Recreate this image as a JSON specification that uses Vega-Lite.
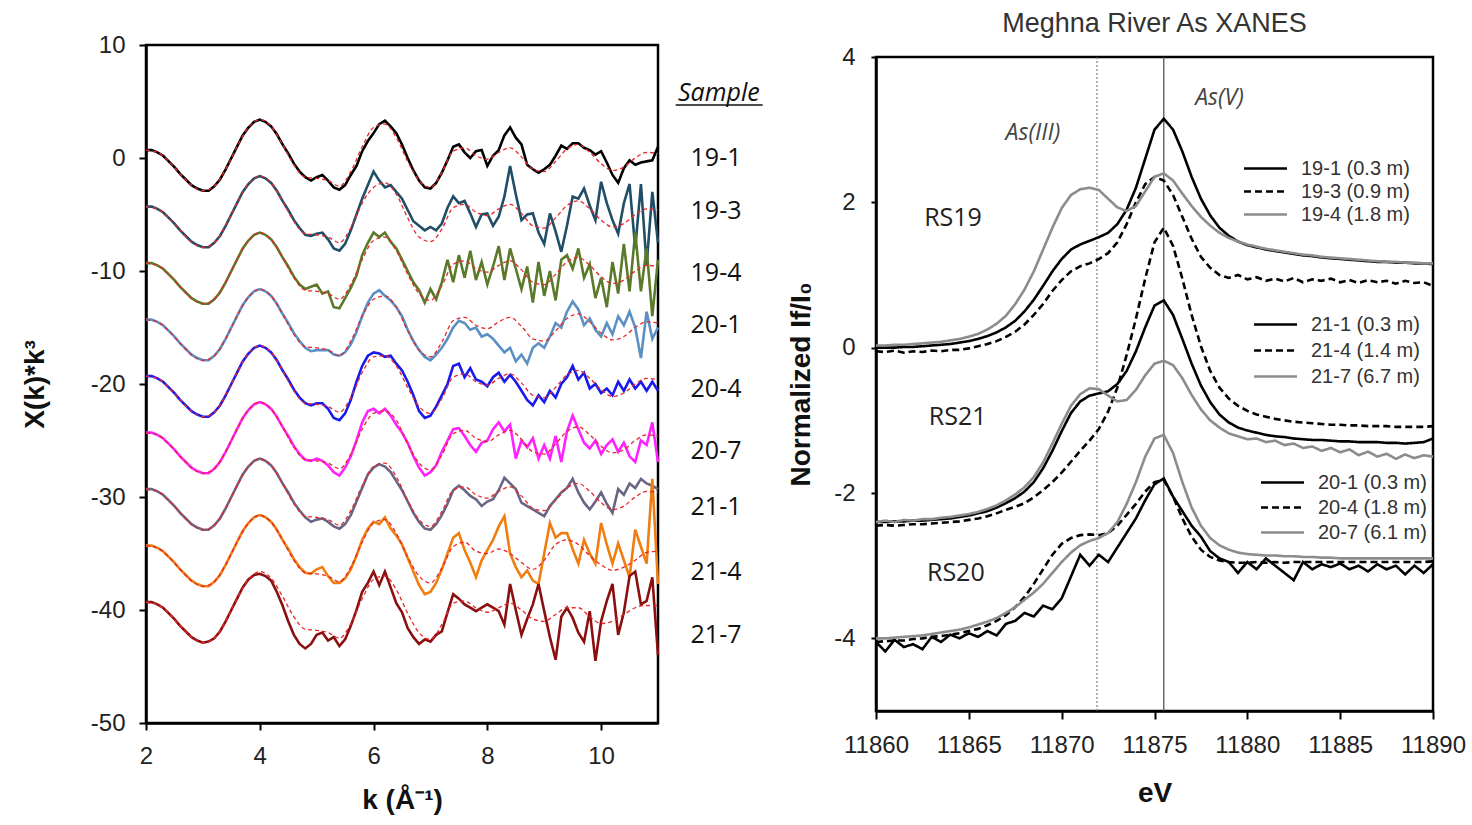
{
"$schema": "https://vega.github.io/schema/vega-lite/v6.json",
"background": "white",
"padding": {"left": 20, "top": 8, "right": 5, "bottom": 5},
"spacing": 218,
"bounds": "flush",
"center": true,
"config": {
  "font": "Liberation Sans",
  "view": {"stroke": "#000", "strokeWidth": 2.5},
  "axis": {"labelFont": "Liberation Sans", "labelFontSize": 24, "labelColor": "#222", "titleFont": "Liberation Sans", "titleFontSize": 28, "titleFontWeight": "bold", "titleColor": "#111", "domainColor": "#000", "domainWidth": 2.5, "tickColor": "#000", "tickWidth": 2, "grid": false, "labelFlush": false, "labelOverlap": false, "format": "d"},
  "legend": {"labelFont": "Liberation Sans", "labelFontSize": 20, "labelColor": "#333", "labelOffset": 24, "rowPadding": 2, "padding": 0, "symbolType": "M-2.15,0H2.15", "symbolSize": 400, "symbolStrokeWidth": 2.6, "title": null},
  "locale": {"number": {"decimal": ".", "thousands": "", "grouping": [3], "currency": ["", ""], "minus": "-"}}
},
"datasets": {
  "ex": [
    {"k":2.0,"a":0.7,"b":-4.3,"c":-9.3,"d":-14.3,"e":-19.3,"f":-24.3,"g":-29.3,"h":-34.3,"i":-39.3},
    {"k":2.1,"a":0.7,"b":-4.3,"c":-9.3,"d":-14.3,"e":-19.3,"f":-24.3,"g":-29.3,"h":-34.3,"i":-39.3},
    {"k":2.2,"a":0.5,"b":-4.5,"c":-9.5,"d":-14.5,"e":-19.5,"f":-24.5,"g":-29.5,"h":-34.5,"i":-39.5},
    {"k":2.3,"a":0.2,"b":-4.8,"c":-9.8,"d":-14.8,"e":-19.8,"f":-24.8,"g":-29.8,"h":-34.8,"i":-39.8},
    {"k":2.4,"a":-0.3,"b":-5.3,"c":-10.3,"d":-15.3,"e":-20.3,"f":-25.3,"g":-30.3,"h":-35.3,"i":-40.3},
    {"k":2.5,"a":-0.8,"b":-5.8,"c":-10.8,"d":-15.8,"e":-20.8,"f":-25.8,"g":-30.8,"h":-35.8,"i":-40.8},
    {"k":2.6,"a":-1.4,"b":-6.4,"c":-11.4,"d":-16.4,"e":-21.4,"f":-26.4,"g":-31.4,"h":-36.4,"i":-41.4},
    {"k":2.7,"a":-1.9,"b":-6.9,"c":-11.9,"d":-16.9,"e":-21.9,"f":-26.9,"g":-31.9,"h":-36.9,"i":-41.9},
    {"k":2.8,"a":-2.4,"b":-7.4,"c":-12.4,"d":-17.4,"e":-22.4,"f":-27.4,"g":-32.4,"h":-37.4,"i":-42.4},
    {"k":2.9,"a":-2.7,"b":-7.7,"c":-12.7,"d":-17.7,"e":-22.7,"f":-27.7,"g":-32.7,"h":-37.7,"i":-42.7},
    {"k":3.0,"a":-2.9,"b":-7.9,"c":-12.9,"d":-17.9,"e":-22.9,"f":-27.9,"g":-32.9,"h":-37.9,"i":-42.9},
    {"k":3.1,"a":-2.9,"b":-7.9,"c":-12.9,"d":-17.9,"e":-22.9,"f":-27.9,"g":-32.9,"h":-37.9,"i":-42.8},
    {"k":3.2,"a":-2.5,"b":-7.5,"c":-12.5,"d":-17.5,"e":-22.5,"f":-27.5,"g":-32.5,"h":-37.5,"i":-42.5},
    {"k":3.3,"a":-1.9,"b":-6.9,"c":-11.9,"d":-16.9,"e":-21.9,"f":-26.9,"g":-31.9,"h":-36.9,"i":-41.9},
    {"k":3.4,"a":-1.0,"b":-6.0,"c":-11.0,"d":-16.0,"e":-21.0,"f":-26.0,"g":-31.0,"h":-36.0,"i":-41.0},
    {"k":3.5,"a":0.0,"b":-5.0,"c":-10.0,"d":-15.0,"e":-20.0,"f":-25.0,"g":-30.0,"h":-35.0,"i":-40.0},
    {"k":3.6,"a":1.0,"b":-4.0,"c":-9.0,"d":-14.0,"e":-19.0,"f":-24.0,"g":-29.0,"h":-34.0,"i":-39.0},
    {"k":3.7,"a":2.0,"b":-3.0,"c":-8.0,"d":-13.0,"e":-18.0,"f":-23.0,"g":-28.0,"h":-33.0,"i":-38.0},
    {"k":3.8,"a":2.7,"b":-2.3,"c":-7.3,"d":-12.3,"e":-17.3,"f":-22.3,"g":-27.3,"h":-32.3,"i":-37.3},
    {"k":3.9,"a":3.2,"b":-1.8,"c":-6.8,"d":-11.8,"e":-16.8,"f":-21.8,"g":-26.8,"h":-31.8,"i":-36.9},
    {"k":4.0,"a":3.4,"b":-1.6,"c":-6.6,"d":-11.6,"e":-16.6,"f":-21.6,"g":-26.6,"h":-31.6,"i":-36.8},
    {"k":4.1,"a":3.2,"b":-1.8,"c":-6.8,"d":-11.8,"e":-16.8,"f":-21.8,"g":-26.8,"h":-31.8,"i":-37.0},
    {"k":4.2,"a":2.8,"b":-2.2,"c":-7.2,"d":-12.2,"e":-17.2,"f":-22.2,"g":-27.2,"h":-32.2,"i":-37.4},
    {"k":4.3,"a":2.1,"b":-2.9,"c":-7.9,"d":-12.9,"e":-17.9,"f":-22.9,"g":-27.9,"h":-32.9,"i":-38.4},
    {"k":4.4,"a":1.2,"b":-3.8,"c":-8.8,"d":-13.8,"e":-18.8,"f":-23.8,"g":-28.8,"h":-33.8,"i":-39.6},
    {"k":4.5,"a":0.4,"b":-4.6,"c":-9.6,"d":-14.6,"e":-19.6,"f":-24.6,"g":-29.6,"h":-34.6,"i":-41.0},
    {"k":4.6,"a":-0.5,"b":-5.5,"c":-10.5,"d":-15.5,"e":-20.5,"f":-25.5,"g":-30.5,"h":-35.5,"i":-42.2},
    {"k":4.7,"a":-1.2,"b":-6.2,"c":-11.2,"d":-16.2,"e":-21.2,"f":-26.2,"g":-31.2,"h":-36.2,"i":-43.0},
    {"k":4.8,"a":-1.7,"b":-6.8,"c":-11.6,"d":-16.8,"e":-21.7,"f":-26.7,"g":-31.8,"h":-36.7,"i":-43.4},
    {"k":4.9,"a":-2.0,"b":-6.9,"c":-11.4,"d":-17.1,"e":-21.9,"f":-26.8,"g":-32.2,"h":-36.8,"i":-43.0},
    {"k":5.0,"a":-1.7,"b":-6.7,"c":-11.2,"d":-17.0,"e":-21.7,"f":-26.6,"g":-32.0,"h":-36.4,"i":-42.2},
    {"k":5.1,"a":-1.5,"b":-6.6,"c":-12.0,"d":-17.0,"e":-21.7,"f":-26.8,"g":-31.9,"h":-36.2,"i":-42.0},
    {"k":5.2,"a":-2.0,"b":-7.2,"c":-11.8,"d":-17.0,"e":-22.2,"f":-27.2,"g":-32.2,"h":-37.0,"i":-42.7},
    {"k":5.3,"a":-2.6,"b":-8.0,"c":-13.2,"d":-17.4,"e":-23.0,"f":-27.8,"g":-32.6,"h":-37.6,"i":-42.4},
    {"k":5.4,"a":-2.8,"b":-8.2,"c":-13.3,"d":-17.5,"e":-23.2,"f":-28.1,"g":-32.8,"h":-37.6,"i":-43.2},
    {"k":5.5,"a":-2.4,"b":-7.6,"c":-12.4,"d":-17.2,"e":-22.6,"f":-27.4,"g":-32.4,"h":-37.2,"i":-42.6},
    {"k":5.6,"a":-1.5,"b":-6.4,"c":-11.5,"d":-16.5,"e":-21.4,"f":-26.4,"g":-31.6,"h":-36.4,"i":-41.4},
    {"k":5.7,"a":-0.7,"b":-5.0,"c":-10.4,"d":-15.4,"e":-19.8,"f":-25.0,"g":-30.4,"h":-35.2,"i":-40.0},
    {"k":5.8,"a":0.6,"b":-3.6,"c":-8.6,"d":-14.0,"e":-18.4,"f":-23.4,"g":-29.2,"h":-33.8,"i":-38.4},
    {"k":5.9,"a":1.5,"b":-2.4,"c":-7.5,"d":-12.8,"e":-17.5,"f":-22.4,"g":-28.0,"h":-32.8,"i":-37.6},
    {"k":6.0,"a":2.2,"b":-1.2,"c":-6.6,"d":-12.0,"e":-17.2,"f":-22.2,"g":-27.4,"h":-32.2,"i":-36.6},
    {"k":6.1,"a":3.0,"b":-2.0,"c":-7.0,"d":-11.7,"e":-17.3,"f":-22.6,"g":-27.1,"h":-32.4,"i":-37.8},
    {"k":6.2,"a":3.3,"b":-2.6,"c":-6.6,"d":-12.2,"e":-17.6,"f":-22.2,"g":-27.3,"h":-31.8,"i":-36.6},
    {"k":6.3,"a":2.8,"b":-2.4,"c":-7.4,"d":-12.6,"e":-17.5,"f":-22.8,"g":-27.8,"h":-32.8,"i":-38.0},
    {"k":6.4,"a":2.2,"b":-3.0,"c":-8.0,"d":-13.2,"e":-18.2,"f":-23.6,"g":-28.6,"h":-33.4,"i":-39.4},
    {"k":6.5,"a":1.2,"b":-3.6,"c":-9.0,"d":-14.0,"e":-18.8,"f":-24.3,"g":-29.4,"h":-34.2,"i":-40.2},
    {"k":6.6,"a":0.0,"b":-4.6,"c":-10.0,"d":-15.2,"e":-19.8,"f":-25.2,"g":-30.4,"h":-35.4,"i":-41.6},
    {"k":6.7,"a":-1.1,"b":-5.6,"c":-11.0,"d":-16.2,"e":-21.0,"f":-26.4,"g":-31.4,"h":-36.6,"i":-42.4},
    {"k":6.8,"a":-2.0,"b":-6.0,"c":-11.7,"d":-17.0,"e":-22.4,"f":-27.4,"g":-32.2,"h":-37.8,"i":-43.0},
    {"k":6.9,"a":-2.6,"b":-6.4,"c":-12.8,"d":-17.6,"e":-23.0,"f":-28.1,"g":-32.8,"h":-38.6,"i":-42.6},
    {"k":7.0,"a":-2.7,"b":-6.1,"c":-11.6,"d":-17.9,"e":-22.8,"f":-27.8,"g":-32.9,"h":-38.4,"i":-42.8},
    {"k":7.1,"a":-2.2,"b":-6.4,"c":-12.5,"d":-17.4,"e":-22.0,"f":-27.2,"g":-32.4,"h":-37.6,"i":-42.2},
    {"k":7.2,"a":-1.3,"b":-5.8,"c":-11.0,"d":-16.8,"e":-21.0,"f":-26.0,"g":-31.6,"h":-36.4,"i":-41.9},
    {"k":7.3,"a":-0.2,"b":-4.4,"c":-9.0,"d":-16.0,"e":-20.0,"f":-25.0,"g":-30.6,"h":-35.0,"i":-40.2},
    {"k":7.4,"a":1.0,"b":-3.4,"c":-11.0,"d":-15.0,"e":-18.4,"f":-24.0,"g":-29.4,"h":-33.6,"i":-38.6},
    {"k":7.5,"a":1.2,"b":-4.0,"c":-8.6,"d":-14.4,"e":-18.2,"f":-23.9,"g":-29.0,"h":-33.2,"i":-39.0},
    {"k":7.6,"a":0.5,"b":-3.8,"c":-10.6,"d":-14.6,"e":-19.4,"f":-24.6,"g":-29.4,"h":-34.7,"i":-39.5},
    {"k":7.7,"a":0.0,"b":-4.9,"c":-8.2,"d":-15.2,"e":-18.6,"f":-25.4,"g":-29.9,"h":-35.8,"i":-39.8},
    {"k":7.8,"a":0.6,"b":-6.1,"c":-10.8,"d":-15.0,"e":-19.6,"f":-26.0,"g":-30.2,"h":-37.1,"i":-40.1},
    {"k":7.9,"a":0.7,"b":-5.0,"c":-9.2,"d":-15.8,"e":-19.8,"f":-25.2,"g":-30.8,"h":-35.6,"i":-39.8},
    {"k":8.0,"a":-0.7,"b":-4.9,"c":-11.2,"d":-15.6,"e":-20.2,"f":-25.0,"g":-30.4,"h":-34.7,"i":-39.5},
    {"k":8.1,"a":0.2,"b":-6.0,"c":-9.6,"d":-16.0,"e":-19.4,"f":-24.0,"g":-30.2,"h":-33.8,"i":-39.8},
    {"k":8.2,"a":0.7,"b":-5.2,"c":-7.8,"d":-16.6,"e":-19.0,"f":-23.4,"g":-29.4,"h":-32.6,"i":-40.1},
    {"k":8.3,"a":2.0,"b":-3.4,"c":-10.8,"d":-17.2,"e":-19.8,"f":-24.2,"g":-28.3,"h":-31.7,"i":-41.3},
    {"k":8.4,"a":2.7,"b":-0.7,"c":-8.0,"d":-16.8,"e":-19.2,"f":-23.6,"g":-28.8,"h":-35.0,"i":-37.7},
    {"k":8.5,"a":1.8,"b":-3.2,"c":-9.8,"d":-18.0,"e":-19.8,"f":-26.6,"g":-29.3,"h":-36.2,"i":-40.0},
    {"k":8.6,"a":1.2,"b":-5.5,"c":-11.6,"d":-17.4,"e":-20.6,"f":-25.0,"g":-30.5,"h":-37.1,"i":-42.2},
    {"k":8.7,"a":-0.6,"b":-5.0,"c":-9.6,"d":-18.2,"e":-21.4,"f":-25.6,"g":-30.8,"h":-36.5,"i":-40.8},
    {"k":8.8,"a":-1.0,"b":-4.9,"c":-12.8,"d":-16.8,"e":-21.9,"f":-24.8,"g":-31.1,"h":-37.4,"i":-39.5},
    {"k":8.9,"a":-1.3,"b":-6.6,"c":-9.2,"d":-16.4,"e":-21.0,"f":-26.6,"g":-31.4,"h":-37.7,"i":-37.7},
    {"k":9.0,"a":-1.0,"b":-7.6,"c":-12.2,"d":-16.8,"e":-21.6,"f":-25.4,"g":-31.7,"h":-35.0,"i":-40.1},
    {"k":9.1,"a":-0.6,"b":-4.9,"c":-10.0,"d":-15.8,"e":-20.6,"f":-26.6,"g":-30.8,"h":-32.3,"i":-42.4},
    {"k":9.2,"a":0.2,"b":-6.5,"c":-12.6,"d":-14.6,"e":-21.2,"f":-24.6,"g":-30.2,"h":-33.6,"i":-44.4},
    {"k":9.3,"a":1.1,"b":-8.3,"c":-9.0,"d":-15.0,"e":-20.0,"f":-26.9,"g":-29.6,"h":-33.2,"i":-40.6},
    {"k":9.4,"a":0.8,"b":-6.0,"c":-8.6,"d":-13.6,"e":-19.4,"f":-24.2,"g":-29.2,"h":-33.2,"i":-39.8},
    {"k":9.5,"a":1.3,"b":-3.4,"c":-9.8,"d":-12.7,"e":-18.4,"f":-22.8,"g":-28.4,"h":-34.6,"i":-40.7},
    {"k":9.6,"a":1.3,"b":-3.6,"c":-8.0,"d":-13.4,"e":-19.6,"f":-24.0,"g":-29.6,"h":-35.9,"i":-42.0},
    {"k":9.7,"a":0.9,"b":-2.7,"c":-10.6,"d":-14.8,"e":-19.0,"f":-25.2,"g":-30.5,"h":-33.8,"i":-42.8},
    {"k":9.8,"a":0.7,"b":-4.2,"c":-9.4,"d":-14.2,"e":-20.4,"f":-25.7,"g":-31.1,"h":-35.0,"i":-40.1},
    {"k":9.9,"a":0.3,"b":-5.5,"c":-12.4,"d":-15.2,"e":-20.0,"f":-25.0,"g":-30.4,"h":-35.9,"i":-44.5},
    {"k":10.0,"a":0.6,"b":-2.1,"c":-10.6,"d":-15.8,"e":-20.8,"f":-26.2,"g":-29.6,"h":-32.3,"i":-41.0},
    {"k":10.1,"a":-0.4,"b":-4.0,"c":-13.2,"d":-14.6,"e":-20.4,"f":-25.4,"g":-30.6,"h":-34.2,"i":-39.2},
    {"k":10.2,"a":-1.5,"b":-5.5,"c":-9.2,"d":-15.6,"e":-21.0,"f":-24.9,"g":-31.4,"h":-35.9,"i":-37.7},
    {"k":10.3,"a":-2.2,"b":-6.7,"c":-12.0,"d":-14.0,"e":-19.8,"f":-26.0,"g":-29.3,"h":-34.1,"i":-42.2},
    {"k":10.4,"a":-0.9,"b":-4.0,"c":-7.6,"d":-14.8,"e":-20.6,"f":-25.2,"g":-29.8,"h":-35.6,"i":-40.2},
    {"k":10.5,"a":-0.2,"b":-2.3,"c":-11.8,"d":-13.6,"e":-19.6,"f":-26.4,"g":-28.8,"h":-37.1,"i":-37.0},
    {"k":10.6,"a":-0.6,"b":-8.0,"c":-6.6,"d":-15.0,"e":-20.4,"f":-26.9,"g":-29.2,"h":-32.9,"i":-36.6},
    {"k":10.7,"a":-0.4,"b":-2.3,"c":-11.8,"d":-17.7,"e":-19.8,"f":-25.0,"g":-28.4,"h":-34.4,"i":-39.5},
    {"k":10.8,"a":-0.3,"b":-9.5,"c":-8.0,"d":-13.6,"e":-20.6,"f":-25.4,"g":-28.8,"h":-35.9,"i":-39.2},
    {"k":10.9,"a":-0.2,"b":-3.0,"c":-14.0,"d":-16.0,"e":-19.8,"f":-23.4,"g":-29.0,"h":-28.4,"i":-37.1},
    {"k":11.0,"a":1.0,"b":-7.5,"c":-9.0,"d":-15.0,"e":-20.6,"f":-26.9,"g":-29.3,"h":-37.7,"i":-44.0}
  ],
  "fit": [
    {"k":2.0,"a":0.7,"b":-4.3,"c":-9.3,"d":-14.3,"e":-19.3,"f":-24.3,"g":-29.3,"h":-34.3,"i":-39.3},
    {"k":2.2,"a":0.5,"b":-4.5,"c":-9.5,"d":-14.5,"e":-19.5,"f":-24.5,"g":-29.5,"h":-34.5,"i":-39.5},
    {"k":2.4,"a":-0.3,"b":-5.3,"c":-10.3,"d":-15.3,"e":-20.3,"f":-25.3,"g":-30.3,"h":-35.3,"i":-40.3},
    {"k":2.6,"a":-1.4,"b":-6.4,"c":-11.4,"d":-16.4,"e":-21.4,"f":-26.4,"g":-31.4,"h":-36.4,"i":-41.4},
    {"k":2.8,"a":-2.4,"b":-7.4,"c":-12.4,"d":-17.4,"e":-22.4,"f":-27.4,"g":-32.4,"h":-37.4,"i":-42.4},
    {"k":3.0,"a":-2.9,"b":-7.9,"c":-12.9,"d":-17.9,"e":-22.9,"f":-27.9,"g":-32.9,"h":-37.9,"i":-42.9},
    {"k":3.2,"a":-2.5,"b":-7.5,"c":-12.5,"d":-17.5,"e":-22.5,"f":-27.5,"g":-32.5,"h":-37.5,"i":-42.5},
    {"k":3.4,"a":-1.0,"b":-6.0,"c":-11.0,"d":-16.0,"e":-21.0,"f":-26.0,"g":-31.0,"h":-36.0,"i":-41.0},
    {"k":3.6,"a":1.0,"b":-4.0,"c":-9.0,"d":-14.0,"e":-19.0,"f":-24.0,"g":-29.0,"h":-34.0,"i":-39.0},
    {"k":3.8,"a":2.7,"b":-2.3,"c":-7.3,"d":-12.3,"e":-17.3,"f":-22.3,"g":-27.3,"h":-32.3,"i":-37.3},
    {"k":4.0,"a":3.4,"b":-1.6,"c":-6.6,"d":-11.6,"e":-16.6,"f":-21.6,"g":-26.6,"h":-31.6,"i":-36.6},
    {"k":4.2,"a":2.8,"b":-2.2,"c":-7.2,"d":-12.2,"e":-17.2,"f":-22.2,"g":-27.2,"h":-32.2,"i":-37.2},
    {"k":4.4,"a":1.2,"b":-3.8,"c":-8.8,"d":-13.8,"e":-18.8,"f":-23.8,"g":-28.8,"h":-33.8,"i":-38.8},
    {"k":4.6,"a":-0.6,"b":-5.6,"c":-10.6,"d":-15.6,"e":-20.6,"f":-25.6,"g":-30.6,"h":-35.6,"i":-40.6},
    {"k":4.8,"a":-1.7,"b":-6.7,"c":-11.7,"d":-16.7,"e":-21.7,"f":-26.7,"g":-31.7,"h":-36.7,"i":-41.7},
    {"k":5.0,"a":-1.8,"b":-6.8,"c":-11.8,"d":-16.8,"e":-21.8,"f":-26.8,"g":-31.8,"h":-36.8,"i":-41.8},
    {"k":5.2,"a":-2.0,"b":-7.0,"c":-12.0,"d":-17.0,"e":-22.0,"f":-27.0,"g":-32.0,"h":-37.0,"i":-42.0},
    {"k":5.4,"a":-2.5,"b":-7.5,"c":-12.5,"d":-17.5,"e":-22.5,"f":-27.5,"g":-32.5,"h":-37.5,"i":-42.5},
    {"k":5.6,"a":-1.2,"b":-6.2,"c":-11.2,"d":-16.2,"e":-21.2,"f":-26.2,"g":-31.2,"h":-36.2,"i":-41.2},
    {"k":5.8,"a":1.0,"b":-4.0,"c":-9.0,"d":-14.0,"e":-19.0,"f":-24.0,"g":-29.0,"h":-34.0,"i":-39.0},
    {"k":6.0,"a":2.7,"b":-2.6,"c":-7.3,"d":-12.5,"e":-17.6,"f":-22.6,"g":-27.3,"h":-32.3,"i":-37.3},
    {"k":6.2,"a":3.0,"b":-2.2,"c":-7.0,"d":-12.2,"e":-17.5,"f":-22.4,"g":-27.0,"h":-32.0,"i":-37.0},
    {"k":6.4,"a":1.8,"b":-3.2,"c":-8.2,"d":-13.2,"e":-18.4,"f":-23.2,"g":-28.2,"h":-33.2,"i":-38.2},
    {"k":6.6,"a":-0.3,"b":-5.3,"c":-10.3,"d":-15.3,"e":-20.3,"f":-25.3,"g":-30.3,"h":-35.3,"i":-40.3},
    {"k":6.8,"a":-2.0,"b":-7.0,"c":-12.0,"d":-17.0,"e":-22.0,"f":-27.0,"g":-32.0,"h":-37.0,"i":-42.0},
    {"k":7.0,"a":-2.6,"b":-7.4,"c":-12.6,"d":-17.6,"e":-22.6,"f":-27.6,"g":-32.6,"h":-37.6,"i":-42.6},
    {"k":7.2,"a":-1.3,"b":-6.3,"c":-11.3,"d":-16.3,"e":-21.3,"f":-26.3,"g":-31.3,"h":-36.3,"i":-41.3},
    {"k":7.4,"a":0.6,"b":-4.4,"c":-9.4,"d":-14.4,"e":-19.4,"f":-24.4,"g":-29.4,"h":-34.4,"i":-39.4},
    {"k":7.6,"a":0.9,"b":-4.1,"c":-9.1,"d":-14.1,"e":-19.1,"f":-24.1,"g":-29.1,"h":-34.0,"i":-39.2},
    {"k":7.8,"a":0.2,"b":-4.8,"c":-9.8,"d":-14.8,"e":-19.8,"f":-24.8,"g":-29.8,"h":-34.8,"i":-39.8},
    {"k":8.0,"a":-0.1,"b":-5.1,"c":-10.1,"d":-15.1,"e":-20.1,"f":-25.1,"g":-30.1,"h":-35.0,"i":-40.2},
    {"k":8.2,"a":0.5,"b":-4.5,"c":-9.5,"d":-14.5,"e":-19.5,"f":-24.5,"g":-29.5,"h":-34.6,"i":-39.8},
    {"k":8.4,"a":0.9,"b":-4.1,"c":-9.1,"d":-14.1,"e":-19.1,"f":-24.1,"g":-29.1,"h":-35.0,"i":-39.4},
    {"k":8.6,"a":0.1,"b":-4.9,"c":-9.9,"d":-14.9,"e":-19.9,"f":-24.9,"g":-29.9,"h":-35.8,"i":-40.0},
    {"k":8.8,"a":-1.0,"b":-6.0,"c":-11.0,"d":-16.0,"e":-21.0,"f":-26.0,"g":-31.0,"h":-36.4,"i":-40.8},
    {"k":9.0,"a":-1.2,"b":-6.2,"c":-11.2,"d":-16.2,"e":-21.2,"f":-26.2,"g":-31.2,"h":-35.6,"i":-41.0},
    {"k":9.2,"a":-0.3,"b":-5.3,"c":-10.3,"d":-15.3,"e":-20.3,"f":-25.3,"g":-30.3,"h":-34.2,"i":-40.4},
    {"k":9.4,"a":0.8,"b":-4.2,"c":-9.2,"d":-14.2,"e":-19.2,"f":-24.2,"g":-29.2,"h":-33.8,"i":-39.8},
    {"k":9.6,"a":1.2,"b":-3.8,"c":-8.8,"d":-13.8,"e":-18.8,"f":-23.8,"g":-28.8,"h":-34.2,"i":-39.8},
    {"k":9.8,"a":0.5,"b":-4.5,"c":-9.5,"d":-14.5,"e":-19.5,"f":-24.5,"g":-29.5,"h":-35.2,"i":-40.6},
    {"k":10.0,"a":-0.5,"b":-5.5,"c":-10.5,"d":-15.5,"e":-20.5,"f":-25.5,"g":-30.5,"h":-36.0,"i":-41.2},
    {"k":10.2,"a":-1.1,"b":-6.1,"c":-11.1,"d":-16.1,"e":-21.1,"f":-26.1,"g":-31.1,"h":-36.5,"i":-41.0},
    {"k":10.4,"a":-0.8,"b":-5.8,"c":-10.8,"d":-15.8,"e":-20.8,"f":-25.8,"g":-30.8,"h":-36.2,"i":-40.4},
    {"k":10.6,"a":0.0,"b":-5.0,"c":-10.0,"d":-15.0,"e":-20.0,"f":-25.0,"g":-30.0,"h":-35.6,"i":-39.8},
    {"k":10.8,"a":0.5,"b":-4.5,"c":-9.5,"d":-14.5,"e":-19.5,"f":-24.5,"g":-29.5,"h":-34.9,"i":-39.6},
    {"k":11.0,"a":0.4,"b":-4.6,"c":-9.6,"d":-14.6,"e":-19.6,"f":-24.6,"g":-29.6,"h":-34.8,"i":-39.6}
  ],
  "lab": [
    {"t":"19-1","y":-0.03},{"t":"19-3","y":-4.73},{"t":"19-4","y":-10.14},{"t":"20-1","y":-14.76},{"t":"20-4","y":-20.43},{"t":"20-7","y":-25.94},{"t":"21-1","y":-30.91},{"t":"21-4","y":-36.67},{"t":"21-7","y":-42.17}
  ],
  "dep": [
    {"s":"19-1","lab":"19-1 (0.3 m)"},{"s":"19-3","lab":"19-3 (0.9 m)"},{"s":"19-4","lab":"19-4 (1.8 m)"},
    {"s":"21-1","lab":"21-1 (0.3 m)"},{"s":"21-4","lab":"21-4 (1.4 m)"},{"s":"21-7","lab":"21-7 (6.7 m)"},
    {"s":"20-1","lab":"20-1 (0.3 m)"},{"s":"20-4","lab":"20-4 (1.8 m)"},{"s":"20-7","lab":"20-7 (6.1 m)"}
  ],
  "xa": [
    {"e":11860,"19-1":0.00,"19-3":-0.05,"19-4":0.03,"21-1":-2.40,"21-4":-2.45,"21-7":-2.40,"20-1":-4.05,"20-4":-4.05,"20-7":-4.00},
    {"e":11860.5,"19-1":0.00,"19-3":-0.06,"19-4":0.03,"21-1":-2.40,"21-4":-2.44,"21-7":-2.38,"20-1":-4.18,"20-4":-4.04,"20-7":-4.00},
    {"e":11861,"19-1":0.00,"19-3":-0.04,"19-4":0.04,"21-1":-2.39,"21-4":-2.45,"21-7":-2.40,"20-1":-4.02,"20-4":-4.03,"20-7":-3.99},
    {"e":11861.5,"19-1":0.01,"19-3":-0.07,"19-4":0.04,"21-1":-2.39,"21-4":-2.44,"21-7":-2.37,"20-1":-4.12,"20-4":-4.03,"20-7":-3.98},
    {"e":11862,"19-1":0.01,"19-3":-0.05,"19-4":0.05,"21-1":-2.38,"21-4":-2.43,"21-7":-2.38,"20-1":-4.08,"20-4":-4.01,"20-7":-3.97},
    {"e":11862.5,"19-1":0.02,"19-3":-0.06,"19-4":0.06,"21-1":-2.38,"21-4":-2.43,"21-7":-2.36,"20-1":-4.15,"20-4":-4.00,"20-7":-3.96},
    {"e":11863,"19-1":0.03,"19-3":-0.04,"19-4":0.07,"21-1":-2.37,"21-4":-2.42,"21-7":-2.36,"20-1":-3.98,"20-4":-3.98,"20-7":-3.94},
    {"e":11863.5,"19-1":0.04,"19-3":-0.05,"19-4":0.08,"21-1":-2.36,"21-4":-2.41,"21-7":-2.34,"20-1":-4.05,"20-4":-3.97,"20-7":-3.92},
    {"e":11864,"19-1":0.05,"19-3":-0.03,"19-4":0.10,"21-1":-2.35,"21-4":-2.40,"21-7":-2.33,"20-1":-3.95,"20-4":-3.95,"20-7":-3.90},
    {"e":11864.5,"19-1":0.07,"19-3":-0.03,"19-4":0.12,"21-1":-2.33,"21-4":-2.39,"21-7":-2.31,"20-1":-4.00,"20-4":-3.93,"20-7":-3.88},
    {"e":11865,"19-1":0.09,"19-3":-0.01,"19-4":0.15,"21-1":-2.31,"21-4":-2.37,"21-7":-2.29,"20-1":-3.93,"20-4":-3.90,"20-7":-3.85},
    {"e":11865.5,"19-1":0.12,"19-3":0.02,"19-4":0.19,"21-1":-2.28,"21-4":-2.35,"21-7":-2.26,"20-1":-3.98,"20-4":-3.87,"20-7":-3.81},
    {"e":11866,"19-1":0.16,"19-3":0.05,"19-4":0.25,"21-1":-2.25,"21-4":-2.32,"21-7":-2.22,"20-1":-3.90,"20-4":-3.82,"20-7":-3.77},
    {"e":11866.5,"19-1":0.21,"19-3":0.09,"19-4":0.33,"21-1":-2.20,"21-4":-2.28,"21-7":-2.17,"20-1":-3.96,"20-4":-3.76,"20-7":-3.72},
    {"e":11867,"19-1":0.28,"19-3":0.15,"19-4":0.44,"21-1":-2.14,"21-4":-2.23,"21-7":-2.10,"20-1":-3.80,"20-4":-3.68,"20-7":-3.65},
    {"e":11867.5,"19-1":0.37,"19-3":0.22,"19-4":0.60,"21-1":-2.07,"21-4":-2.19,"21-7":-2.02,"20-1":-3.76,"20-4":-3.57,"20-7":-3.57},
    {"e":11868,"19-1":0.50,"19-3":0.32,"19-4":0.80,"21-1":-1.98,"21-4":-2.14,"21-7":-1.92,"20-1":-3.65,"20-4":-3.43,"20-7":-3.47},
    {"e":11868.5,"19-1":0.66,"19-3":0.45,"19-4":1.05,"21-1":-1.85,"21-4":-2.06,"21-7":-1.78,"20-1":-3.70,"20-4":-3.25,"20-7":-3.37},
    {"e":11869,"19-1":0.85,"19-3":0.60,"19-4":1.35,"21-1":-1.66,"21-4":-1.96,"21-7":-1.58,"20-1":-3.55,"20-4":-3.05,"20-7":-3.25},
    {"e":11869.5,"19-1":1.05,"19-3":0.78,"19-4":1.65,"21-1":-1.42,"21-4":-1.85,"21-7":-1.32,"20-1":-3.60,"20-4":-2.85,"20-7":-3.10},
    {"e":11870,"19-1":1.22,"19-3":0.93,"19-4":1.92,"21-1":-1.15,"21-4":-1.72,"21-7":-1.05,"20-1":-3.45,"20-4":-2.70,"20-7":-2.95},
    {"e":11870.5,"19-1":1.35,"19-3":1.05,"19-4":2.10,"21-1":-0.90,"21-4":-1.57,"21-7":-0.80,"20-1":-3.15,"20-4":-2.62,"20-7":-2.82},
    {"e":11871,"19-1":1.42,"19-3":1.12,"19-4":2.18,"21-1":-0.74,"21-4":-1.42,"21-7":-0.64,"20-1":-2.85,"20-4":-2.58,"20-7":-2.72},
    {"e":11871.5,"19-1":1.47,"19-3":1.16,"19-4":2.20,"21-1":-0.66,"21-4":-1.28,"21-7":-0.56,"20-1":-3.00,"20-4":-2.57,"20-7":-2.66},
    {"e":11872,"19-1":1.52,"19-3":1.22,"19-4":2.17,"21-1":-0.63,"21-4":-1.12,"21-7":-0.57,"20-1":-2.85,"20-4":-2.58,"20-7":-2.62},
    {"e":11872.5,"19-1":1.58,"19-3":1.30,"19-4":2.05,"21-1":-0.60,"21-4":-0.88,"21-7":-0.66,"20-1":-2.95,"20-4":-2.55,"20-7":-2.55},
    {"e":11873,"19-1":1.70,"19-3":1.45,"19-4":1.93,"21-1":-0.50,"21-4":-0.55,"21-7":-0.74,"20-1":-2.75,"20-4":-2.45,"20-7":-2.40},
    {"e":11873.5,"19-1":1.90,"19-3":1.70,"19-4":1.88,"21-1":-0.32,"21-4":-0.10,"21-7":-0.72,"20-1":-2.55,"20-4":-2.30,"20-7":-2.15},
    {"e":11874,"19-1":2.20,"19-3":2.00,"19-4":1.95,"21-1":-0.05,"21-4":0.40,"21-7":-0.58,"20-1":-2.35,"20-4":-2.15,"20-7":-1.85},
    {"e":11874.5,"19-1":2.60,"19-3":2.25,"19-4":2.15,"21-1":0.28,"21-4":0.95,"21-7":-0.38,"20-1":-2.10,"20-4":-1.98,"20-7":-1.50},
    {"e":11875,"19-1":3.00,"19-3":2.35,"19-4":2.35,"21-1":0.58,"21-4":1.45,"21-7":-0.22,"20-1":-1.88,"20-4":-1.85,"20-7":-1.25},
    {"e":11875.5,"19-1":3.15,"19-3":2.30,"19-4":2.40,"21-1":0.65,"21-4":1.65,"21-7":-0.18,"20-1":-1.80,"20-4":-1.82,"20-7":-1.20},
    {"e":11876,"19-1":3.00,"19-3":2.10,"19-4":2.30,"21-1":0.45,"21-4":1.40,"21-7":-0.24,"20-1":-2.05,"20-4":-2.05,"20-7":-1.45},
    {"e":11876.5,"19-1":2.70,"19-3":1.80,"19-4":2.12,"21-1":0.12,"21-4":0.95,"21-7":-0.42,"20-1":-2.25,"20-4":-2.35,"20-7":-1.85},
    {"e":11877,"19-1":2.35,"19-3":1.50,"19-4":1.95,"21-1":-0.22,"21-4":0.45,"21-7":-0.65,"20-1":-2.45,"20-4":-2.60,"20-7":-2.20},
    {"e":11877.5,"19-1":2.05,"19-3":1.25,"19-4":1.80,"21-1":-0.52,"21-4":0.02,"21-7":-0.85,"20-1":-2.60,"20-4":-2.78,"20-7":-2.45},
    {"e":11878,"19-1":1.82,"19-3":1.10,"19-4":1.68,"21-1":-0.75,"21-4":-0.32,"21-7":-1.00,"20-1":-2.80,"20-4":-2.88,"20-7":-2.62},
    {"e":11878.5,"19-1":1.65,"19-3":1.00,"19-4":1.58,"21-1":-0.92,"21-4":-0.55,"21-7":-1.10,"20-1":-2.90,"20-4":-2.93,"20-7":-2.72},
    {"e":11879,"19-1":1.54,"19-3":0.96,"19-4":1.51,"21-1":-1.03,"21-4":-0.70,"21-7":-1.18,"20-1":-2.95,"20-4":-2.95,"20-7":-2.78},
    {"e":11879.5,"19-1":1.46,"19-3":1.00,"19-4":1.46,"21-1":-1.10,"21-4":-0.80,"21-7":-1.22,"20-1":-3.10,"20-4":-2.96,"20-7":-2.82},
    {"e":11880,"19-1":1.41,"19-3":0.94,"19-4":1.42,"21-1":-1.14,"21-4":-0.87,"21-7":-1.26,"20-1":-2.95,"20-4":-2.96,"20-7":-2.84},
    {"e":11880.5,"19-1":1.38,"19-3":0.97,"19-4":1.39,"21-1":-1.17,"21-4":-0.92,"21-7":-1.25,"20-1":-3.05,"20-4":-2.95,"20-7":-2.85},
    {"e":11881,"19-1":1.35,"19-3":0.92,"19-4":1.36,"21-1":-1.20,"21-4":-0.95,"21-7":-1.30,"20-1":-2.90,"20-4":-2.96,"20-7":-2.86},
    {"e":11881.5,"19-1":1.33,"19-3":0.95,"19-4":1.34,"21-1":-1.22,"21-4":-0.98,"21-7":-1.28,"20-1":-3.00,"20-4":-2.95,"20-7":-2.86},
    {"e":11882,"19-1":1.31,"19-3":0.91,"19-4":1.32,"21-1":-1.23,"21-4":-1.00,"21-7":-1.34,"20-1":-3.10,"20-4":-2.96,"20-7":-2.87},
    {"e":11882.5,"19-1":1.29,"19-3":0.96,"19-4":1.30,"21-1":-1.25,"21-4":-1.02,"21-7":-1.32,"20-1":-3.20,"20-4":-2.95,"20-7":-2.87},
    {"e":11883,"19-1":1.27,"19-3":0.90,"19-4":1.28,"21-1":-1.26,"21-4":-1.03,"21-7":-1.38,"20-1":-2.95,"20-4":-2.95,"20-7":-2.88},
    {"e":11883.5,"19-1":1.26,"19-3":0.94,"19-4":1.27,"21-1":-1.27,"21-4":-1.04,"21-7":-1.36,"20-1":-3.05,"20-4":-2.95,"20-7":-2.88},
    {"e":11884,"19-1":1.24,"19-3":0.92,"19-4":1.25,"21-1":-1.27,"21-4":-1.05,"21-7":-1.42,"20-1":-2.98,"20-4":-2.95,"20-7":-2.89},
    {"e":11884.5,"19-1":1.23,"19-3":0.95,"19-4":1.24,"21-1":-1.28,"21-4":-1.06,"21-7":-1.38,"20-1":-3.02,"20-4":-2.95,"20-7":-2.89},
    {"e":11885,"19-1":1.22,"19-3":0.90,"19-4":1.23,"21-1":-1.29,"21-4":-1.06,"21-7":-1.44,"20-1":-2.97,"20-4":-2.95,"20-7":-2.90},
    {"e":11885.5,"19-1":1.21,"19-3":0.93,"19-4":1.22,"21-1":-1.29,"21-4":-1.07,"21-7":-1.40,"20-1":-3.05,"20-4":-2.95,"20-7":-2.90},
    {"e":11886,"19-1":1.20,"19-3":0.89,"19-4":1.21,"21-1":-1.30,"21-4":-1.07,"21-7":-1.48,"20-1":-3.00,"20-4":-2.95,"20-7":-2.90},
    {"e":11886.5,"19-1":1.19,"19-3":0.93,"19-4":1.20,"21-1":-1.30,"21-4":-1.08,"21-7":-1.43,"20-1":-3.08,"20-4":-2.95,"20-7":-2.90},
    {"e":11887,"19-1":1.18,"19-3":0.90,"19-4":1.19,"21-1":-1.30,"21-4":-1.08,"21-7":-1.50,"20-1":-2.98,"20-4":-2.95,"20-7":-2.90},
    {"e":11887.5,"19-1":1.18,"19-3":0.92,"19-4":1.18,"21-1":-1.31,"21-4":-1.08,"21-7":-1.46,"20-1":-3.05,"20-4":-2.95,"20-7":-2.90},
    {"e":11888,"19-1":1.17,"19-3":0.88,"19-4":1.18,"21-1":-1.31,"21-4":-1.09,"21-7":-1.53,"20-1":-3.00,"20-4":-2.95,"20-7":-2.90},
    {"e":11888.5,"19-1":1.17,"19-3":0.92,"19-4":1.17,"21-1":-1.32,"21-4":-1.09,"21-7":-1.47,"20-1":-3.12,"20-4":-2.95,"20-7":-2.90},
    {"e":11889,"19-1":1.16,"19-3":0.89,"19-4":1.17,"21-1":-1.31,"21-4":-1.09,"21-7":-1.52,"20-1":-3.00,"20-4":-2.95,"20-7":-2.90},
    {"e":11889.5,"19-1":1.16,"19-3":0.90,"19-4":1.16,"21-1":-1.30,"21-4":-1.09,"21-7":-1.48,"20-1":-3.10,"20-4":-2.95,"20-7":-2.90},
    {"e":11890,"19-1":1.15,"19-3":0.85,"19-4":1.16,"21-1":-1.25,"21-4":-1.08,"21-7":-1.50,"20-1":-2.98,"20-4":-2.94,"20-7":-2.90}
  ]
},
"hconcat": [
  {
    "width": 512,
    "height": 678,
    "layer": [
      {
        "data": {"name": "ex"},
        "transform": [{"fold": ["a","b","c","d","e","f","g","h","i"], "as": ["s","v"]}],
        "mark": {"type": "line", "strokeWidth": 2.6},
        "encoding": {
          "x": {"field": "k", "type": "quantitative", "scale": {"domain": [2, 11], "nice": false, "zero": false},
                "axis": {"values": [2,4,6,8,10], "format": "d", "title": "k (Å⁻¹)", "tickSize": 7, "labelPadding": 14, "titlePadding": 18}},
          "y": {"field": "v", "type": "quantitative", "scale": {"domain": [-50, 10], "nice": false, "zero": false},
                "axis": {"values": [-50,-40,-30,-20,-10,0,10], "format": "d", "title": "X(k)*k³", "tickSize": 7, "labelPadding": 14, "titlePadding": 41}},
          "color": {"field": "s", "type": "nominal",
                    "scale": {"domain": ["a","b","c","d","e","f","g","h","i"],
                              "range": ["#000000","#1f4e66","#5a7a2a","#5b90c4","#1a1aee","#ff22ff","#6a6585","#f07d10","#8a0f0f"]},
                    "legend": null}
        }
      },
      {
        "data": {"name": "fit"},
        "transform": [{"fold": ["a","b","c","d","e","f","g","h","i"], "as": ["s","v"]}],
        "mark": {"type": "line", "strokeWidth": 1.3, "strokeDash": [4, 3], "color": "#e8262a", "interpolate": "monotone"},
        "encoding": {
          "x": {"field": "k", "type": "quantitative"},
          "y": {"field": "v", "type": "quantitative"},
          "detail": {"field": "s", "type": "nominal"}
        }
      },
      {
        "data": {"name": "lab"},
        "mark": {"type": "text", "font": "Open Sans", "fontSize": 25, "color": "#111", "align": "center", "baseline": "middle"},
        "encoding": {
          "x": {"datum": 12.02},
          "y": {"field": "y", "type": "quantitative"},
          "text": {"field": "t"}
        }
      },
      {
        "data": {"values": [{"t": "Sample"}]},
        "mark": {"type": "text", "font": "Open Sans", "fontSize": 25, "fontStyle": "italic", "color": "#111", "align": "center", "baseline": "middle"},
        "encoding": {
          "x": {"datum": 12.07},
          "y": {"datum": 5.74},
          "text": {"field": "t"}
        }
      },
      {
        "data": {"values": [{"t": "Sample"}]},
        "mark": {"type": "rule", "strokeWidth": 1.5, "color": "#111"},
        "encoding": {
          "x": {"datum": 11.31},
          "x2": {"datum": 12.84},
          "y": {"datum": 4.7}
        }
      }
    ]
  },
  {
    "width": 557,
    "height": 654,
    "title": {"text": "Meghna River As XANES", "font": "Liberation Sans", "fontSize": 27, "fontWeight": "normal", "color": "#333", "offset": 7, "anchor": "middle"},
    "layer": [
      {
        "data": {"values": [{"e": 11871.9}]},
        "mark": {"type": "rule", "strokeDash": [2, 2], "strokeWidth": 1, "color": "#666"},
        "encoding": {
          "x": {"field": "e", "type": "quantitative", "scale": {"domain": [11860, 11890], "nice": false, "zero": false},
                "axis": {"values": [11860,11865,11870,11875,11880,11885,11890], "format": "d", "title": "eV", "tickSize": 8, "labelPadding": 14, "titlePadding": 22}}
        }
      },
      {
        "data": {"values": [{"e": 11875.5}]},
        "mark": {"type": "rule", "strokeWidth": 1.3, "color": "#555"},
        "encoding": {"x": {"field": "e", "type": "quantitative"}}
      },
      {
        "data": {"name": "xa"},
        "transform": [{"fold": ["19-1","19-3","19-4"], "as": ["s","v"]}, {"lookup": "s", "from": {"data": {"name": "dep"}, "key": "s", "fields": ["lab"]}}],
        "mark": {"type": "line", "strokeWidth": 2.6},
        "encoding": {
          "x": {"field": "e", "type": "quantitative"},
          "y": {"field": "v", "type": "quantitative", "scale": {"domain": [-5, 4], "nice": false, "zero": false},
                "axis": {"values": [-4,-2,0,2,4], "format": "d", "title": "Normalized If/I₀", "tickSize": 5, "labelPadding": 16, "titlePadding": 18}},
          "color": {"field": "lab", "type": "nominal", "scale": {"domain": ["19-1 (0.3 m)","19-3 (0.9 m)","19-4 (1.8 m)"], "range": ["#000000","#000000","#8c8c8c"]},
                    "legend": {"orient": "none", "legendX": 378, "legendY": 100, "rowPadding": 1}},
          "strokeDash": {"field": "lab", "type": "nominal", "scale": {"domain": ["19-1 (0.3 m)","19-3 (0.9 m)","19-4 (1.8 m)"], "range": [[1,0],[7,4],[1,0]]},
                    "legend": {"orient": "none", "legendX": 378, "legendY": 100, "rowPadding": 1}}
        }
      },
      {
        "data": {"name": "xa"},
        "transform": [{"fold": ["21-1","21-4","21-7"], "as": ["s","v"]}, {"lookup": "s", "from": {"data": {"name": "dep"}, "key": "s", "fields": ["lab"]}}],
        "mark": {"type": "line", "strokeWidth": 2.6},
        "encoding": {
          "x": {"field": "e", "type": "quantitative"},
          "y": {"field": "v", "type": "quantitative"},
          "color": {"field": "lab", "type": "nominal", "scale": {"domain": ["21-1 (0.3 m)","21-4 (1.4 m)","21-7 (6.7 m)"], "range": ["#000000","#000000","#8c8c8c"]},
                    "legend": {"orient": "none", "legendX": 388, "legendY": 256, "rowPadding": 4}},
          "strokeDash": {"field": "lab", "type": "nominal", "scale": {"domain": ["21-1 (0.3 m)","21-4 (1.4 m)","21-7 (6.7 m)"], "range": [[1,0],[7,4],[1,0]]},
                    "legend": {"orient": "none", "legendX": 388, "legendY": 256, "rowPadding": 4}}
        }
      },
      {
        "data": {"name": "xa"},
        "transform": [{"fold": ["20-1","20-4","20-7"], "as": ["s","v"]}, {"lookup": "s", "from": {"data": {"name": "dep"}, "key": "s", "fields": ["lab"]}}],
        "mark": {"type": "line", "strokeWidth": 2.6},
        "encoding": {
          "x": {"field": "e", "type": "quantitative"},
          "y": {"field": "v", "type": "quantitative"},
          "color": {"field": "lab", "type": "nominal", "scale": {"domain": ["20-1 (0.3 m)","20-4 (1.8 m)","20-7 (6.1 m)"], "range": ["#000000","#000000","#8c8c8c"]},
                    "legend": {"orient": "none", "legendX": 395, "legendY": 414, "rowPadding": 3}},
          "strokeDash": {"field": "lab", "type": "nominal", "scale": {"domain": ["20-1 (0.3 m)","20-4 (1.8 m)","20-7 (6.1 m)"], "range": [[1,0],[7,4],[1,0]]},
                    "legend": {"orient": "none", "legendX": 395, "legendY": 414, "rowPadding": 3}}
        }
      },
      {
        "data": {"values": [{"e": 11864.15, "v": 1.79, "t": "RS19"}, {"e": 11864.4, "v": -0.95, "t": "RS21"}, {"e": 11864.3, "v": -3.1, "t": "RS20"}]},
        "mark": {"type": "text", "font": "Open Sans", "fontSize": 25, "color": "#222", "align": "center", "baseline": "middle"},
        "encoding": {
          "x": {"field": "e", "type": "quantitative"},
          "y": {"field": "v", "type": "quantitative"},
          "text": {"field": "t"}
        }
      },
      {
        "data": {"values": [{"e": 11868.45, "v": 2.96, "t": "As(III)"}, {"e": 11878.5, "v": 3.44, "t": "As(V)"}]},
        "mark": {"type": "text", "font": "Open Sans", "fontSize": 23, "fontStyle": "italic", "color": "#444", "align": "center", "baseline": "middle"},
        "encoding": {
          "x": {"field": "e", "type": "quantitative"},
          "y": {"field": "v", "type": "quantitative"},
          "text": {"field": "t"}
        }
      }
    ],
    "resolve": {
      "scale": {"color": "independent", "strokeDash": "independent"},
      "legend": {"color": "independent", "strokeDash": "independent"}
    }
  }
]
}
